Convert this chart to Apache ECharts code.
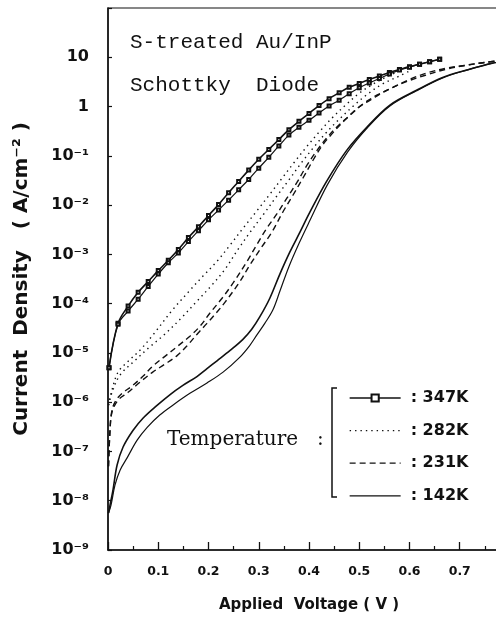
<!DOCTYPE html>
<html><head><meta charset="utf-8">
<script src="https://cdn.jsdelivr.net/npm/echarts/dist/echarts.min.js"></script>
<style>html,body{margin:0;padding:0;background:#fff}#c{width:496px;height:618px}</style>
</head><body><div id="c"></div>
<script>
// ---- tick labels ----
const X_TICK_LABELS = ['0', '0.1', '0.2', '0.3', '0.4', '0.5', '0.6', '0.7'];
// exponents -9 .. 2
const Y_TICK_LABELS = ['10⁻⁹', '10⁻⁸', '10⁻⁷', '10⁻⁶', '10⁻⁵', '10⁻⁴', '10⁻³', '10⁻²', '10⁻¹', '1', '10', ''];

// ---- legend categories ----
const TEMPERATURES = ['347K', '282K', '231K', '142K'];

// ---- data: applied voltage (V) and log10 of current density (A/cm^2) ----
const V_347K = [0.002, 0.02, 0.04, 0.06, 0.08, 0.10, 0.12, 0.14, 0.16, 0.18, 0.20, 0.22, 0.24, 0.26, 0.28, 0.30, 0.32, 0.34, 0.36, 0.38, 0.40, 0.42, 0.44, 0.46, 0.48, 0.50, 0.52, 0.54, 0.56, 0.58, 0.60, 0.62, 0.64, 0.66];
const LOGJ_347K_A = [-5.3, -4.40, -4.05, -3.77, -3.55, -3.33, -3.12, -2.90, -2.66, -2.44, -2.21, -1.99, -1.75, -1.52, -1.29, -1.07, -0.87, -0.67, -0.47, -0.30, -0.14, 0.02, 0.16, 0.28, 0.39, 0.47, 0.55, 0.62, 0.69, 0.75, 0.81, 0.86, 0.91, 0.96];
const LOGJ_347K_B = [-5.3, -4.42, -4.15, -3.91, -3.65, -3.40, -3.17, -2.97, -2.74, -2.52, -2.30, -2.10, -1.90, -1.69, -1.48, -1.25, -1.03, -0.80, -0.58, -0.42, -0.28, -0.13, 0.01, 0.13, 0.26, 0.38, 0.48, 0.57, 0.66, 0.74, 0.80, 0.86, 0.91, 0.96];

const V_282K_A = [0.001, 0.008, 0.02, 0.038, 0.064, 0.089, 0.129, 0.163, 0.189, 0.217, 0.243, 0.268, 0.296, 0.322, 0.346, 0.37, 0.395, 0.42, 0.447, 0.475, 0.50, 0.525, 0.55, 0.575];
const LOGJ_282K_A = [-6.06, -5.75, -5.39, -5.19, -4.94, -4.64, -4.12, -3.73, -3.44, -3.14, -2.81, -2.48, -2.12, -1.78, -1.46, -1.14, -0.82, -0.52, -0.22, 0.05, 0.27, 0.44, 0.58, 0.70];
const V_282K_B = [0.001, 0.008, 0.024, 0.054, 0.083, 0.113, 0.147, 0.177, 0.207, 0.233, 0.26, 0.285, 0.31, 0.335, 0.36, 0.385, 0.41, 0.435, 0.46, 0.487, 0.515, 0.545, 0.58, 0.60];
const LOGJ_282K_B = [-6.06, -5.80, -5.45, -5.15, -4.88, -4.62, -4.28, -3.95, -3.62, -3.30, -2.88, -2.52, -2.18, -1.83, -1.49, -1.14, -0.82, -0.52, -0.26, 0.0, 0.24, 0.45, 0.62, 0.72];

const V_231K_A = [0.001, 0.004, 0.008, 0.016, 0.028, 0.048, 0.070, 0.089, 0.117, 0.139, 0.163, 0.183, 0.203, 0.227, 0.249, 0.278, 0.298, 0.316, 0.336, 0.356, 0.376, 0.396, 0.416, 0.435, 0.457, 0.481, 0.507, 0.535, 0.567, 0.600, 0.634, 0.674, 0.714, 0.753, 0.80];
const LOGJ_231K_A = [-7.3, -6.57, -6.16, -5.96, -5.82, -5.67, -5.47, -5.27, -5.04, -4.86, -4.66, -4.46, -4.19, -3.89, -3.58, -3.12, -2.77, -2.47, -2.18, -1.86, -1.54, -1.19, -0.89, -0.64, -0.40, -0.18, 0.05, 0.23, 0.39, 0.55, 0.68, 0.78, 0.84, 0.90, 0.95];
const V_231K_B = [0.001, 0.004, 0.008, 0.020, 0.040, 0.064, 0.089, 0.113, 0.137, 0.157, 0.179, 0.197, 0.217, 0.233, 0.262, 0.282, 0.306, 0.326, 0.348, 0.368, 0.388, 0.408, 0.427, 0.447, 0.471, 0.497, 0.525, 0.555, 0.590, 0.630, 0.674, 0.714, 0.753, 0.80];
const LOGJ_231K_B = [-7.3, -6.57, -6.20, -5.96, -5.80, -5.59, -5.39, -5.23, -5.06, -4.86, -4.60, -4.40, -4.17, -3.97, -3.56, -3.22, -2.85, -2.55, -2.14, -1.80, -1.45, -1.09, -0.78, -0.54, -0.28, -0.03, 0.15, 0.33, 0.49, 0.63, 0.76, 0.84, 0.90, 0.95];

const V_142K_A = [0.001, 0.004, 0.010, 0.018, 0.030, 0.050, 0.070, 0.097, 0.123, 0.149, 0.177, 0.197, 0.217, 0.243, 0.268, 0.286, 0.302, 0.322, 0.342, 0.362, 0.382, 0.401, 0.435, 0.475, 0.515, 0.561, 0.614, 0.666, 0.714, 0.765, 0.80];
const LOGJ_142K_A = [-8.25, -8.09, -7.78, -7.28, -6.91, -6.57, -6.32, -6.07, -5.85, -5.66, -5.48, -5.32, -5.16, -4.95, -4.73, -4.52, -4.27, -3.89, -3.40, -2.95, -2.55, -2.16, -1.52, -0.89, -0.42, 0.03, 0.33, 0.59, 0.74, 0.88, 0.94];
const V_142K_B = [0.001, 0.006, 0.014, 0.024, 0.038, 0.058, 0.078, 0.103, 0.129, 0.163, 0.197, 0.229, 0.262, 0.282, 0.296, 0.312, 0.328, 0.342, 0.36, 0.38, 0.40, 0.437, 0.477, 0.517, 0.561, 0.614, 0.666, 0.714, 0.765, 0.80];
const LOGJ_142K_B = [-8.25, -8.09, -7.68, -7.38, -7.13, -6.77, -6.51, -6.26, -6.06, -5.82, -5.61, -5.39, -5.09, -4.85, -4.64, -4.40, -4.13, -3.75, -3.25, -2.78, -2.35, -1.58, -0.92, -0.42, 0.01, 0.32, 0.58, 0.74, 0.88, 0.94];

const pairs = (xs, ys) => xs.map((x, i) => [x, ys[i]]);
const INK = '#111';
const SANS = '"DejaVu Sans", sans-serif';

function curve(name, xs, ys, lineStyle, withMarks) {
  return {
    name: name, type: 'line', data: pairs(xs, ys),
    smooth: 0.35,
    showSymbol: !!withMarks,
    symbol: withMarks ? 'emptyRect' : 'none',
    symbolSize: withMarks ? 3 : 0,
    lineStyle: Object.assign({ color: INK }, lineStyle),
    itemStyle: withMarks ? { color: INK, borderColor: INK, borderWidth: 1.3 } : { color: INK, opacity: 0 },
    emphasis: { disabled: true }, silent: true
  };
}

const DOTTED = [1.4, 4];
const DASHED = [6, 4];

const chart = echarts.init(document.getElementById('c'), null, { renderer: 'canvas' });
chart.setOption({
  animation: false,
  backgroundColor: '#fff',
  grid: { left: 108, top: 8, bottom: 68, right: -14, show: true, borderColor: INK, borderWidth: 1.2, backgroundColor: 'transparent', containLabel: false, outerBoundsMode: 'none' },
  xAxis: {
    type: 'value', min: 0, max: 0.8, interval: 0.1,
    name: 'Applied  Voltage ( V )', nameLocation: 'middle', nameGap: 48,
    nameTextStyle: { fontFamily: SANS, fontWeight: 'bold', fontSize: 15, color: INK },
    axisLine: { show: true, onZero: false, lineStyle: { color: INK, width: 1.5 } },
    axisTick: { show: true, inside: true, length: 8, lineStyle: { color: INK, width: 1.3 } },
    minorTick: { show: true, splitNumber: 2, length: 4, lineStyle: { color: INK, width: 1.2 } },
    splitLine: { show: false }, minorSplitLine: { show: false },
    axisLabel: {
      margin: 15, fontFamily: SANS, fontWeight: 'bold', fontSize: 12.5, color: INK,
      showMaxLabel: false,
      formatter: function (v) { const k = Math.round(v * 10); return Math.abs(v * 10 - k) < 1e-6 && k < X_TICK_LABELS.length ? X_TICK_LABELS[k] : ''; }
    }
  },
  yAxis: {
    type: 'value', min: -9, max: 2, interval: 1,
    name: 'Current  Density   ( A/cm⁻² )', nameLocation: 'middle', nameGap: 76,
    nameTextStyle: { fontFamily: SANS, fontWeight: 'bold', fontSize: 20, color: INK },
    axisLine: { show: true, onZero: false, lineStyle: { color: INK, width: 1.5 } },
    axisTick: { show: true, inside: true, length: 4, lineStyle: { color: INK, width: 1.2 } },
    splitLine: { show: false },
    axisLabel: {
      margin: 19, fontFamily: SANS, fontWeight: 'bold', fontSize: 16, color: INK,
      formatter: function (v) { const k = Math.round(v) + 9; return Y_TICK_LABELS[k] || ''; }
    }
  },
  legend: {
    data: TEMPERATURES, orient: 'vertical', left: 349, top: 388, padding: 0,
    itemWidth: 51, itemHeight: 9, itemGap: 12.6, selectedMode: false,
    formatter: ': {name}',
    lineStyle: { width: 1.3 },
    textStyle: { fontFamily: SANS, fontWeight: 'bold', fontSize: 16, color: INK, lineHeight: 20, padding: [0, 0, 0, 5] }
  },
  graphic: [
    { type: 'text', left: 130, top: 32, style: { text: 'S-treated Au/InP', font: '21px "Liberation Mono", monospace', fill: INK } },
    { type: 'text', left: 130, top: 75, style: { text: 'Schottky  Diode', font: '21px "Liberation Mono", monospace', fill: INK } },
    { type: 'text', left: 167, top: 430, style: { text: 'Temperature   :', font: '20px "DejaVu Serif", serif', fill: INK } },
    { type: 'polyline', shape: { points: [[337, 388], [332, 388], [332, 497], [337, 497]] }, style: { stroke: INK, lineWidth: 1.5, fill: null } }
  ],
  series: [
    curve('347K', V_347K, LOGJ_347K_A, { width: 1.6, type: 'solid' }, true),
    curve('347K', V_347K, LOGJ_347K_B, { width: 1.2, type: 'solid' }, true),
    curve('282K', V_282K_A, LOGJ_282K_A, { width: 1.4, type: DOTTED }),
    curve('282K', V_282K_B, LOGJ_282K_B, { width: 1.4, type: DOTTED }),
    curve('231K', V_231K_A, LOGJ_231K_A, { width: 1.4, type: DASHED }),
    curve('231K', V_231K_B, LOGJ_231K_B, { width: 1.4, type: DASHED }),
    curve('142K', V_142K_A, LOGJ_142K_A, { width: 1.6, type: 'solid' }),
    curve('142K', V_142K_B, LOGJ_142K_B, { width: 1.2, type: 'solid' })
  ]
});
</script></body></html>
